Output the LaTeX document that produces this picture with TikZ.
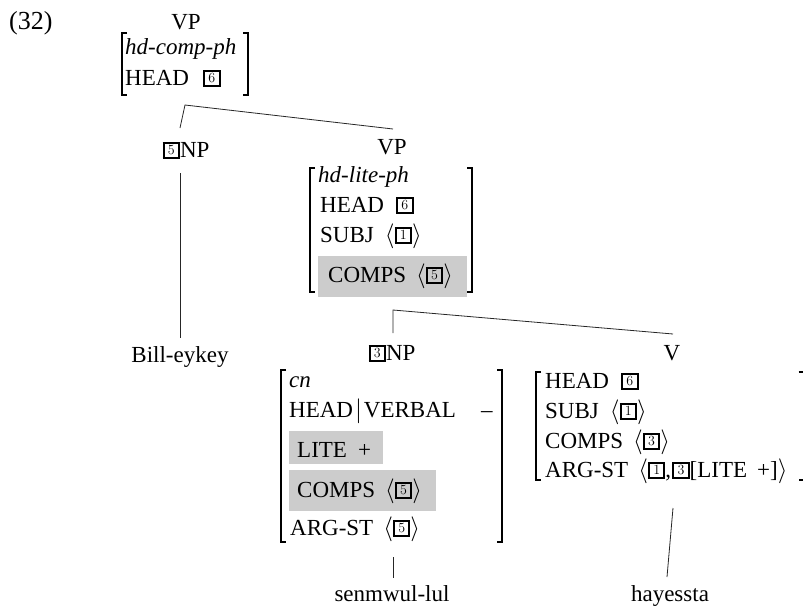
\documentclass[tikz,border=0pt]{standalone}
\usepackage{fontspec}
\setmainfont{Liberation Serif}
\newfontfamily\lmfont{Latin Modern Roman}
\newcommand\tg[1]{\raisebox{2.2pt}{\setlength\fboxsep{0pt}\setlength\fboxrule{2pt}\fbox{\makebox[13.5pt][c]{\rule[-2.6pt]{0pt}{13.5pt}\lmfont\fontsize{14}{14}\selectfont #1}}}}
\newcommand\lng{$\langle$}
\newcommand\rng{$\rangle$}
\newcommand\lbrk[3]{\draw[brk] (#1+5,#2) -- (#1,#2) -- (#1,#3) -- (#1+5,#3);}
\newcommand\rbrk[3]{\draw[brk] (#1-5,#2) -- (#1,#2) -- (#1,#3) -- (#1-5,#3);}
\tikzset{
  txt/.style={inner sep=0pt, anchor=base west, font=\fontsize{23}{28}\selectfont},
  ctr/.style={inner sep=0pt, anchor=base, font=\fontsize{23}{28}\selectfont},
  brk/.style={line width=1.6pt},
  edge/.style={line width=0.8pt, black!85},
  hl/.style={fill=gray!40, draw=none}
}
\begin{document}
\begin{tikzpicture}[x=1pt, y=-1pt]
\useasboundingbox (0,0) rectangle (803,608);
% label
\node[txt, font=\fontsize{26}{30}\selectfont] (ex) at (9,29) {(32)};
% top VP
\node[ctr] (vp1) at (186,29) {VP};
\lbrk{122}{33}{95}
\rbrk{248}{33}{95}
\node[txt] (r11) at (125,54) {\itshape hd-comp-ph};
\node[txt] (r12) at (125,85) {HEAD\hspace{14pt}\tg{6}};
% first branching
\coordinate (a1) at (185,105);
\coordinate (a1l) at (180,128);
\coordinate (a1r) at (393,129);
\draw[edge] (a1l) -- (a1) -- (a1r);
% 5NP
\node[ctr] (np5) at (186,157) {\tg{5}NP};
\coordinate (b1) at (180,173);
\coordinate (b2) at (180,338);
\draw[edge] (b1) -- (b2);
\node[ctr] (bill) at (180,362) {Bill-eykey};
% VP2
\node[ctr] (vp2) at (392,154) {VP};
\fill[hl] (318,256) rectangle (467,297);
\lbrk{310}{168}{292}
\rbrk{472}{168}{292}
\node[txt] (r21) at (318,182) {\itshape hd-lite-ph};
\node[txt] (r22) at (320,212) {HEAD\hspace{12pt}\tg{6}};
\node[txt] (r23) at (320,242) {SUBJ\hspace{11pt}\lng\tg{1}\rng};
\node[txt] (r24) at (328,282) {COMPS\hspace{10pt}\lng\tg{5}\rng};
% second branching
\coordinate (a2) at (393,310);
\coordinate (a2l) at (393,333);
\coordinate (a2r) at (673,334);
\draw[edge] (a2l) -- (a2) -- (a2r);
% 3NP
\node[ctr] (np3) at (392,360) {\tg{3}NP};
\fill[hl] (289,431) rectangle (383,464);
\fill[hl] (289,470) rectangle (436,511);
\lbrk{281}{370}{542}
\rbrk{502}{370}{542}
\node[txt] (r31) at (289,387) {\itshape cn};
\node[txt] (r32) at (289,417) {HEAD\hspace{2pt}$|$\hspace{2pt}VERBAL};
\node[txt] (r32d) at (481,417) {–};
\node[txt] (r33) at (297,457) {LITE\hspace{11pt}+};
\node[txt] (r34) at (297,497) {COMPS\hspace{10pt}\lng\tg{5}\rng};
\node[txt] (r35) at (290,535) {ARG-ST\hspace{10pt}\lng\tg{5}\rng};
\coordinate (s1) at (393,557);
\coordinate (s2) at (393,578);
\draw[edge] (s1) -- (s2);
\node[ctr] (senm) at (392,601) {senmwul-lul};
% V
\node[ctr] (v) at (672,360) {V};
\lbrk{536}{372}{480}
\rbrk{803.5}{372}{480}
\node[txt] (r41) at (545,388) {HEAD\hspace{12pt}\tg{6}};
\node[txt] (r42) at (545,418) {SUBJ\hspace{11pt}\lng\tg{1}\rng};
\node[txt] (r43) at (545,448) {COMPS\hspace{10pt}\lng\tg{3}\rng};
\node[txt] (r44) at (545,477) {ARG-ST\hspace{10pt}\lng\tg{1},\hspace{1pt}\tg{3}[LITE\hspace{10pt}+]\rng};
\coordinate (h1) at (673,508);
\coordinate (h2) at (667,577);
\draw[edge] (h1) -- (h2);
\node[ctr] (haye) at (670,601) {hayessta};
\end{tikzpicture}
\end{document}
